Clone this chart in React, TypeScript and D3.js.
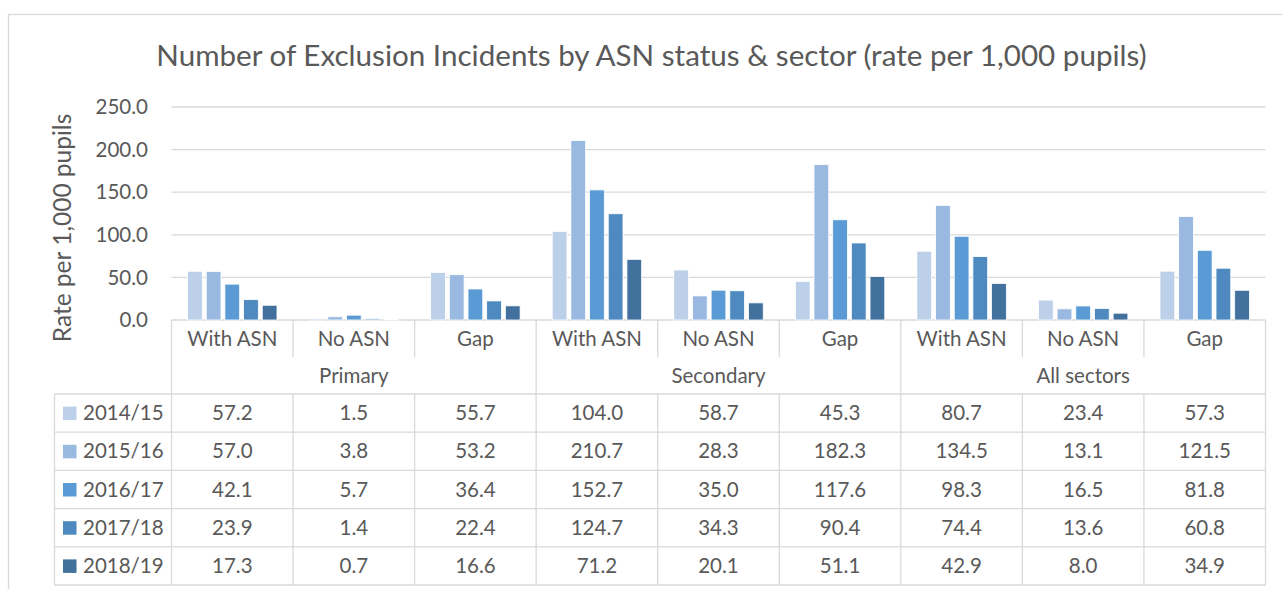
import React from "react";
import * as d3 from "d3";

const title = "Number of Exclusion Incidents by ASN status & sector (rate per 1,000 pupils)";
const yAxisTitle = "Rate per 1,000 pupils";
const sectors = ["Primary", "Secondary", "All sectors"];
const groups = ["With ASN", "No ASN", "Gap"];
const years = ["2014/15", "2015/16", "2016/17", "2017/18", "2018/19"];
const v2014 = [57.2, 1.5, 55.7, 104.0, 58.7, 45.3, 80.7, 23.4, 57.3];
const v2015 = [57.0, 3.8, 53.2, 210.7, 28.3, 182.3, 134.5, 13.1, 121.5];
const v2016 = [42.1, 5.7, 36.4, 152.7, 35.0, 117.6, 98.3, 16.5, 81.8];
const v2017 = [23.9, 1.4, 22.4, 124.7, 34.3, 90.4, 74.4, 13.6, 60.8];
const v2018 = [17.3, 0.7, 16.6, 71.2, 20.1, 51.1, 42.9, 8.0, 34.9];
const yTicks = [0, 50, 100, 150, 200, 250];
const colors = ["#BDD0EA", "#9AB9E0", "#5B9BD5", "#4E8ABF", "#41719C"];

const series = [v2014, v2015, v2016, v2017, v2018];
const categories = sectors.flatMap((s) => groups.map((g) => `${s}|${g}`));

const FONT = "Lato, 'Open Sans', sans-serif";
const TXT = "#595959";
const GRID = "#D9D9D9";
const FS = 20.5;

export default function App() {
  const left = 171.5, right = 1265.5;
  const yTop = 107, yBase = 320;
  const x0 = d3.scaleBand<string>().domain(categories).range([left, right]);
  const x1 = d3.scaleBand<string>().domain(years).range([0, x0.bandwidth()]).paddingInner(0.21).paddingOuter(0.86);
  const y = d3.scaleLinear().domain([0, 250]).range([yBase, yTop]);
  const fmt = d3.format(".1f");
  const sx = d3.scaleBand<string>().domain(sectors).range([left, right]);

  const rowTop = 394;
  const rowH = 38.2;
  const catRowMid = 338.5;
  const secRowMid = 375.5;
  const legendLeft = 54.5;

  return (
    <div style={{ position: "absolute", left: 0, top: 0 }}>
      <svg width={1282} height={589} style={{ display: "block" }} fontFamily={FONT}>
        <rect x={0} y={0} width={1282} height={589} fill="#fff" />
        <rect x={8.5} y={14.5} width={1400} height={700} fill="#fff" stroke={GRID} strokeWidth={1.3} />
        <text x={651.5} y={66} textAnchor="middle" fontSize={29.6} fill={TXT}>{title}</text>
        {yTicks.map((t) => (
          <line key={t} x1={left} x2={right} y1={y(t)} y2={y(t)} stroke={GRID} strokeWidth={1.3} />
        ))}
        {yTicks.map((t) => (
          <text key={"l" + t} x={148} y={y(t)} dy="0.35em" textAnchor="end" fontSize={FS} fill={TXT}>{fmt(t)}</text>
        ))}
        <text transform={`translate(71,228) rotate(-90)`} textAnchor="middle" fontSize={24.5} fill={TXT}>{yAxisTitle}</text>
        {series.map((vals, si) =>
          vals.map((v, ci) => (
            <rect
              key={`${si}-${ci}`}
              x={(x0(categories[ci]) ?? 0) + (x1(years[si]) ?? 0)}
              y={y(v)}
              width={x1.bandwidth()}
              height={yBase - y(v)}
              fill={colors[si]}
              stroke="#fff"
              strokeWidth={0.8}
            />
          ))
        )}
        {categories.map((c, ci) => {
          const cx = (x0(c) ?? 0);
          const isSectorStart = ci % 3 === 0;
          return (
            <g key={"cat" + ci}>
              <line x1={cx} x2={cx} y1={yBase} y2={isSectorStart ? rowTop : 357} stroke={GRID} strokeWidth={1.3} />
              <text x={cx + x0.bandwidth() / 2} y={catRowMid} dy="0.35em" textAnchor="middle" fontSize={FS} fill={TXT}>{groups[ci % 3]}</text>
            </g>
          );
        })}
        <line x1={right} x2={right} y1={yBase} y2={rowTop} stroke={GRID} strokeWidth={1.3} />
        {sectors.map((s) => (
          <text key={s} x={(sx(s) ?? 0) + sx.bandwidth() / 2} y={secRowMid} dy="0.35em" textAnchor="middle" fontSize={FS} fill={TXT}>{s}</text>
        ))}
        {years.map((yr, si) => {
          const top = rowTop + si * rowH;
          return (
            <g key={yr}>
              <line x1={legendLeft} x2={right} y1={top} y2={top} stroke={GRID} strokeWidth={1.3} />
              <rect x={63} y={top + rowH / 2 - 6.5} width={13.5} height={13.5} fill={colors[si]} />
              <text x={83} y={top + rowH / 2} dy="0.35em" fontSize={FS} fill={TXT}>{yr}</text>
              {series[si].map((v, ci) => (
                <text key={ci} x={(x0(categories[ci]) ?? 0) + x0.bandwidth() / 2} y={top + rowH / 2} dy="0.35em" textAnchor="middle" fontSize={FS} fill={TXT}>{fmt(v)}</text>
              ))}
            </g>
          );
        })}
        <line x1={legendLeft} x2={right} y1={rowTop + 5 * rowH} y2={rowTop + 5 * rowH} stroke={GRID} strokeWidth={1.3} />
        <line x1={legendLeft} x2={legendLeft} y1={rowTop} y2={rowTop + 5 * rowH} stroke={GRID} strokeWidth={1.3} />
        {categories.map((c) => (
          <line key={"v" + c} x1={x0(c) ?? 0} x2={x0(c) ?? 0} y1={rowTop} y2={rowTop + 5 * rowH} stroke={GRID} strokeWidth={1.3} />
        ))}
        <line x1={right} x2={right} y1={rowTop} y2={rowTop + 5 * rowH} stroke={GRID} strokeWidth={1.3} />
      </svg>
    </div>
  );
}
